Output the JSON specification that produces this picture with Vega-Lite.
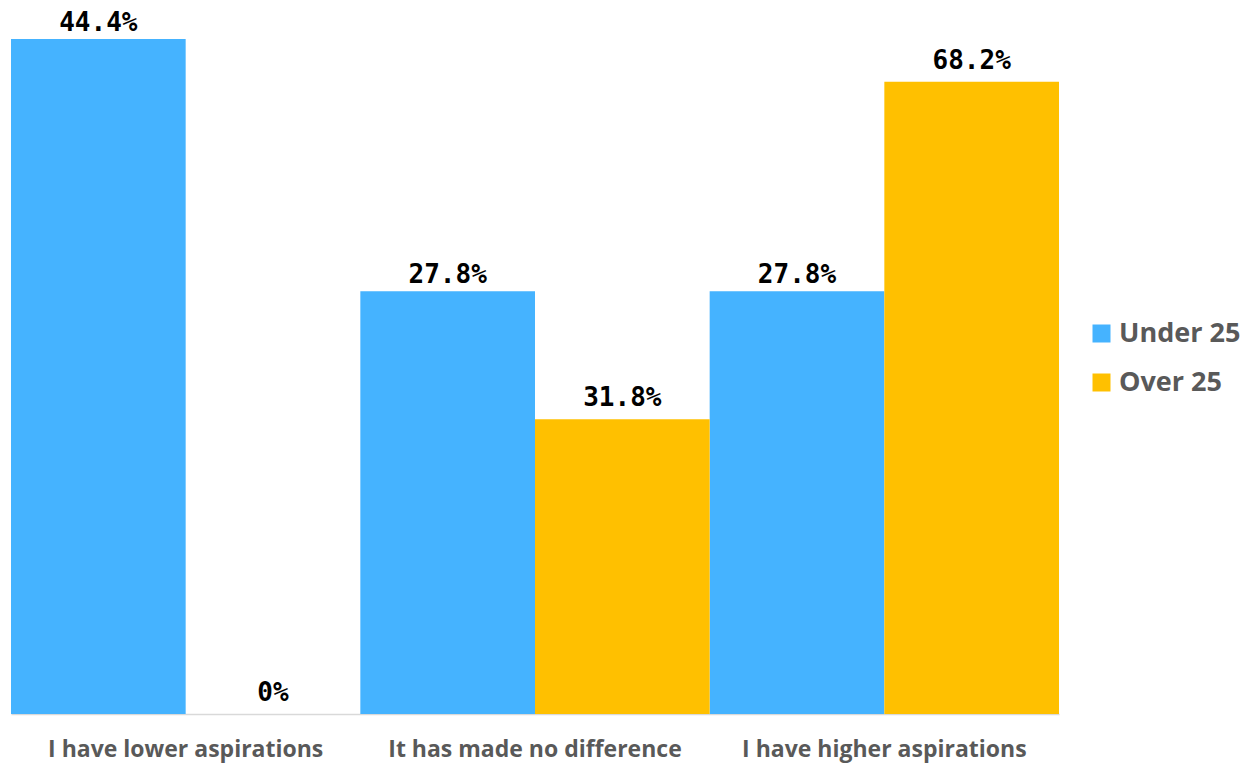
{
  "$schema": "https://vega.github.io/schema/vega-lite/v6.json",
  "width": 1048,
  "height": 704,
  "autosize": {"type": "none"},
  "padding": {"left": 11, "top": 10, "right": 191, "bottom": 50},
  "background": "white",
  "config": {"view": {"stroke": null}},
  "data": {
    "values": [
      {"category": "I have lower aspirations", "series": "Under 25", "value": 44.4, "label": "44.4%"},
      {"category": "I have lower aspirations", "series": "Over 25", "value": 0, "label": "0%"},
      {"category": "It has made no difference", "series": "Under 25", "value": 27.8, "label": "27.8%"},
      {"category": "It has made no difference", "series": "Over 25", "value": 31.8, "label": "31.8%"},
      {"category": "I have higher aspirations", "series": "Under 25", "value": 27.8, "label": "27.8%"},
      {"category": "I have higher aspirations", "series": "Over 25", "value": 68.2, "label": "68.2%"}
    ]
  },
  "encoding": {
    "x": {
      "field": "category",
      "type": "nominal",
      "sort": null,
      "scale": {"paddingInner": 0, "paddingOuter": 0},
      "axis": {
        "title": null,
        "labelAngle": 0,
        "labelFont": "Open Sans",
        "labelFontWeight": "bold",
        "labelFontSize": 23,
        "labelColor": "#595959",
        "labelPadding": 24,
        "ticks": false,
        "domainColor": "#D9D9D9",
        "domainWidth": 1.5,
        "labelLimit": 400
      }
    },
    "xOffset": {"field": "series", "type": "nominal", "scale": {"domain": ["Under 25", "Over 25"], "paddingInner": 0, "paddingOuter": 0}},
    "color": {
      "field": "series",
      "type": "nominal",
      "scale": {"domain": ["Under 25", "Over 25"], "range": ["#45B3FF", "#FFC000"]},
      "legend": {
        "title": null,
        "orient": "none",
        "legendX": 1077,
        "legendY": 310,
        "padding": 0,
        "symbolType": "square",
        "symbolSize": 324,
        "symbolStrokeWidth": 0,
        "symbolOpacity": 1,
        "labelFont": "Open Sans",
        "labelFontWeight": "bold",
        "labelFontSize": 27,
        "labelColor": "#595959",
        "rowPadding": 21,
        "labelOffset": 4
      }
    }
  },
  "layer": [
    {
      "transform": [{"filter": "datum.series === 'Under 25'"}],
      "encoding": {
        "y": {"field": "value", "type": "quantitative", "scale": {"domain": [0, 46.3], "nice": false, "zero": true}, "axis": null}
      },
      "layer": [
        {"mark": {"type": "bar"}},
        {
          "mark": {"type": "text", "baseline": "bottom", "dy": -3, "font": "DejaVu Sans Mono", "fontWeight": "bold", "fontSize": 26, "color": "#000000"},
          "encoding": {"text": {"field": "label"}, "color": {"value": "#000000"}}
        }
      ]
    },
    {
      "transform": [{"filter": "datum.series === 'Over 25'"}],
      "encoding": {
        "y": {"field": "value", "type": "quantitative", "scale": {"domain": [0, 75.95], "nice": false, "zero": true}, "axis": null}
      },
      "layer": [
        {"mark": {"type": "bar"}},
        {
          "mark": {"type": "text", "baseline": "bottom", "dy": -8, "font": "DejaVu Sans Mono", "fontWeight": "bold", "fontSize": 26, "color": "#000000"},
          "encoding": {"text": {"field": "label"}, "color": {"value": "#000000"}}
        }
      ]
    }
  ],
  "resolve": {"scale": {"y": "independent"}}
}
